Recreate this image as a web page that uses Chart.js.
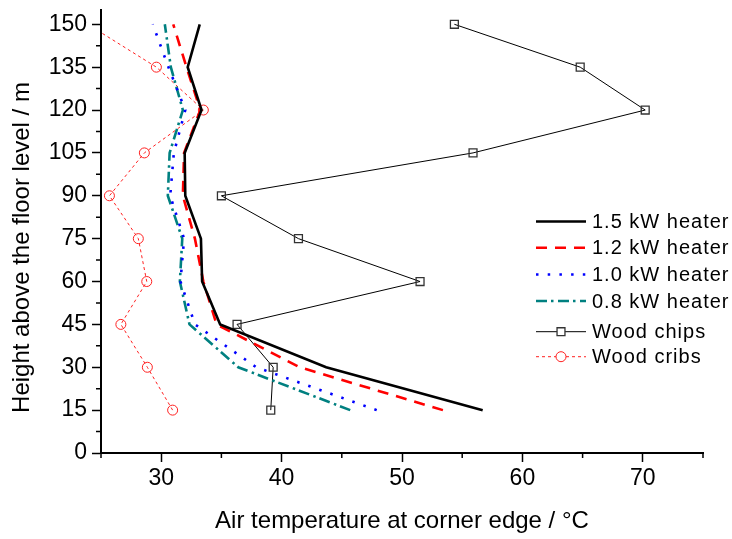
<!DOCTYPE html>
<html>
<head>
  <title>Air temperature at corner edge</title>
  <style>
    body { margin: 0; background: #fff; }
    canvas { display: block; }
  </style>
</head>
<body>
  <canvas id="canvas" width="732" height="539"></canvas>
  <script src="https://cdn.jsdelivr.net/npm/chart.js"></script>
  <script>
    // heights above floor (m) and temperatures (degC)
    var heights = [15, 30, 45, 60, 75, 90, 105, 120, 135, 150];
    var heater15 = [56.7, 43.7, 34.9, 33.4, 33.3, 32.0, 31.95, 33.35, 32.2, 33.2];
    var heater12 = [53.4, 41.5, 34.6, 33.5, 32.8, 31.8, 31.9, 33.25, 32.1, 31.0];
    var heater10 = [47.9, 37.9, 32.8, 31.6, 31.9, 30.75, 31.05, 32.0, 30.6, 29.3];
    var heater08 = [45.7, 36.4, 32.35, 31.55, 31.75, 30.55, 30.7, 31.8, 30.8, 30.3];
    var woodChips = [39.1, 39.3, 36.3, 51.5, 41.4, 35.0, 55.9, 70.2, 64.8, 54.35];
    var woodCribs = [30.95, 28.85, 26.65, 28.8, 28.1, 25.7, 28.6, 33.5, 29.6, 23.9];

    var xMajor = [30, 40, 50, 60, 70];
    var xMinor = [25, 35, 45, 55, 65, 75];
    var yMajor = [0, 15, 30, 45, 60, 75, 90, 105, 120, 135, 150];
    var yMinor = [7.5, 22.5, 37.5, 52.5, 67.5, 82.5, 97.5, 112.5, 127.5, 142.5];

    var FONT = "'Liberation Sans', Arial, sans-serif";

    function points(temps) {
      return temps.map(function(t, i) { return {x: t, y: heights[i]}; });
    }

    function line(label, temps, color, width, dash) {
      return {
        label: label,
        data: points(temps),
        borderColor: color,
        borderWidth: width,
        borderDash: dash,
        borderCapStyle: 'butt',
        pointRadius: 0,
        fill: false,
        tension: 0
      };
    }

    var datasets = [
      line('1.5 kW heater', heater15, '#000000', 2.6, []),
      line('1.2 kW heater', heater12, '#ff0000', 2.6, [11, 8]),
      line('1.0 kW heater', heater10, '#0000ff', 2.6, [2.5, 9.2]),
      line('0.8 kW heater', heater08, '#008080', 2.6, [11, 4, 2.5, 4.5]),
      Object.assign(line('Wood chips', woodChips, '#000000', 1, []), {
        pointStyle: 'rect', pointRadius: 5.6, pointBorderWidth: 1.3,
        pointBorderColor: '#333333', pointBackgroundColor: 'rgba(0,0,0,0)'
      }),
      Object.assign(line('Wood cribs', woodCribs, '#ff2020', 1, [3, 3]), {
        pointStyle: 'circle', pointRadius: 5, pointBorderWidth: 1,
        pointBorderColor: '#ff2020', pointBackgroundColor: 'rgba(0,0,0,0)'
      })
    ];

    // short minor ticks, y title and the in-plot legend
    var extras = {
      id: 'extras',
      afterDraw: function(chart) {
        var ctx = chart.ctx, area = chart.chartArea;
        var xs = chart.scales.x, ys = chart.scales.y;
        ctx.save();
        ctx.strokeStyle = '#000';
        ctx.lineWidth = 1.5;
        ctx.beginPath();
        yMinor.forEach(function(v) {
          var p = ys.getPixelForValue(v);
          ctx.moveTo(area.left - 5, p); ctx.lineTo(area.left, p);
        });
        xMinor.forEach(function(v) {
          var p = xs.getPixelForValue(v);
          ctx.moveTo(p, area.bottom); ctx.lineTo(p, area.bottom + 5);
        });
        ctx.stroke();

        // y axis title
        ctx.save();
        ctx.translate(22, 247.5);
        ctx.rotate(-Math.PI / 2);
        ctx.fillStyle = '#000';
        ctx.font = '24px ' + FONT;
        ctx.textAlign = 'center';
        ctx.textBaseline = 'middle';
        ctx.fillText('Height above the floor level / m', 0, 0);
        ctx.restore();

        // legend
        var rows = [221.5, 247.7, 274.5, 301, 331.7, 356.7];
        var x0 = 536, x1 = 586, xm = 561;
        chart.data.datasets.forEach(function(ds, i) {
          var y = rows[i];
          ctx.strokeStyle = ds.borderColor;
          ctx.lineWidth = ds.borderWidth;
          ctx.lineCap = 'butt';
          ctx.setLineDash(ds.borderDash || []);
          ctx.beginPath();
          ctx.moveTo(x0, y); ctx.lineTo(x1, y);
          ctx.stroke();
          ctx.setLineDash([]);
          if (ds.pointRadius > 0) {
            ctx.strokeStyle = ds.pointBorderColor;
            ctx.lineWidth = ds.pointBorderWidth;
            ctx.fillStyle = '#fff';
            ctx.beginPath();
            if (ds.pointStyle === 'rect') {
              var s = ds.pointRadius * Math.SQRT1_2;
              ctx.rect(xm - s, y - s, 2 * s, 2 * s);
            } else {
              ctx.arc(xm, y, ds.pointRadius, 0, 2 * Math.PI);
            }
            ctx.fill();
            ctx.stroke();
          }
          ctx.fillStyle = '#000';
          ctx.font = '20px ' + FONT;
          ctx.letterSpacing = '1px';
          ctx.textAlign = 'left';
          ctx.textBaseline = 'middle';
          ctx.fillText(ds.label, 592, y + 1);
          ctx.letterSpacing = '0px';
        });
        ctx.restore();
      }
    };

    var config = {
      type: 'line',
      data: { datasets: datasets },
      options: {
        responsive: false,
        animation: false,
        events: [],
        layout: { padding: { top: 10, right: 29, left: 0, bottom: 0 } },
        plugins: { legend: { display: false }, tooltip: { enabled: false } },
        scales: {
          x: {
            type: 'linear',
            min: 25,
            max: 75,
            afterBuildTicks: function(scale) {
              scale.ticks = xMajor.map(function(v) { return {value: v}; });
            },
            afterFit: function(scale) {
              scale.height = 86;
              scale.paddingLeft = 0; scale.paddingRight = 0;
            },
            grid: { drawOnChartArea: false, tickLength: 9, tickWidth: 1.5, tickColor: '#000' },
            border: { display: true, color: '#000', width: 2 },
            ticks: { color: '#000', padding: 3, font: { size: 23, family: FONT } },
            title: {
              display: true,
              text: 'Air temperature at corner edge / °C',
              color: '#000',
              font: { size: 24, family: FONT },
              padding: { top: 0, bottom: 3 }
            }
          },
          y: {
            type: 'linear',
            min: 0,
            max: 155,
            afterBuildTicks: function(scale) {
              scale.ticks = yMajor.map(function(v) { return {value: v}; });
            },
            afterFit: function(scale) {
              scale.width = 101;
              scale.paddingTop = 0; scale.paddingBottom = 0;
            },
            grid: { drawOnChartArea: false, tickLength: 9, tickWidth: 1.5, tickColor: '#000' },
            border: { display: true, color: '#000', width: 2 },
            ticks: { color: '#000', padding: 5, font: { size: 23, family: FONT } }
          }
        }
      },
      plugins: [extras]
    };

    window.onload = function() {
      var ctx = document.getElementById('canvas').getContext('2d');
      window.myLine = new Chart(ctx, config);
    };
  </script>
</body>
</html>
